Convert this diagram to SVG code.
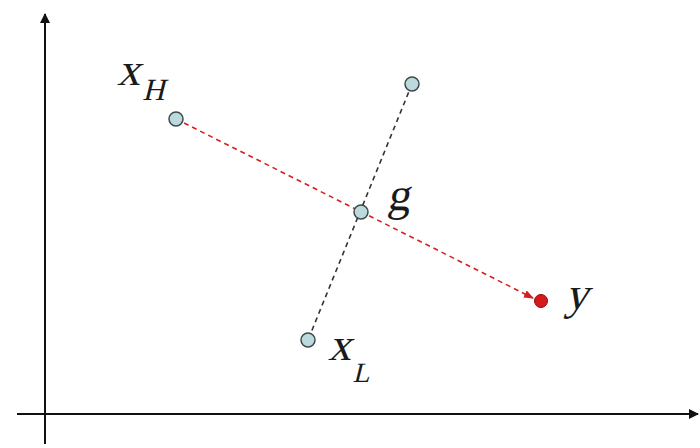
<svg xmlns="http://www.w3.org/2000/svg" width="700" height="448" viewBox="0 0 700 448">
<style>
.pt{fill:#bcd9dc;stroke:#3d4a4c;stroke-width:1.5}
.lbl{font-family:"Liberation Serif","DejaVu Serif",serif;font-style:normal;fill:#1a1a1a}
.ax{stroke:#111;stroke-width:2;fill:none}
</style>
<defs>
<marker id="ah" markerWidth="10" markerHeight="10" refX="9" refY="5" orient="auto" markerUnits="userSpaceOnUse"><path d="M0,0 L10,5 L0,10 z" fill="#111"/></marker>
<marker id="rh" markerWidth="10" markerHeight="8" refX="9" refY="4" orient="auto" markerUnits="userSpaceOnUse"><path d="M0,0 L10,4 L0,8 z" fill="#d42020"/></marker>
</defs>
<rect width="700" height="448" fill="#fff"/>
<g id="axes">
<line class="ax" x1="45" y1="444" x2="45" y2="14" marker-end="url(#ah)"/>
<line class="ax" x1="17" y1="414" x2="698" y2="414" marker-end="url(#ah)"/>
</g>
<g id="connectors">
<line x1="412" y1="84" x2="308" y2="340" stroke="#333" stroke-width="1.6" stroke-dasharray="5,4"/>
<line x1="176" y1="119" x2="533" y2="298" stroke="#d42020" stroke-width="1.6" stroke-dasharray="5,4" marker-end="url(#rh)"/>
</g>
<g id="xH"><circle class="pt" cx="176" cy="119" r="7"/><g transform="translate(117,85) skewX(-14)"><text class="lbl" x="0" y="0" font-size="46">x</text><text class="lbl" x="29" y="15" font-size="31">H</text></g></g>
<g id="top"><circle class="pt" cx="412" cy="84" r="7"/></g>
<g id="g"><circle class="pt" cx="361" cy="212" r="7"/><g transform="translate(387,210) skewX(-10)"><text class="lbl" x="0" y="0" font-size="46">g</text></g></g>
<g id="xL"><circle class="pt" cx="308" cy="340" r="7"/><g transform="translate(328,360) skewX(-14)"><text class="lbl" x="0" y="0" font-size="46">x</text><text class="lbl" x="30" y="22" font-size="28">L</text></g></g>
<g id="y"><circle cx="541" cy="301" r="6.5" fill="#d41a1a" stroke="#8a0c0c" stroke-width="1"/><g transform="translate(565,309) skewX(-14)"><text class="lbl" x="0" y="0" font-size="46">y</text></g></g>
</svg>
